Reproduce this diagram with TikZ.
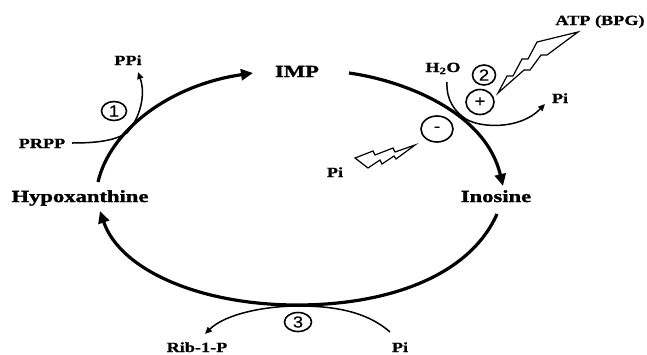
\documentclass[tikz,border=0pt]{standalone}
\usepackage{fontspec}
\newfontfamily\heavyfont{Liberation Serif Bold}[FakeStretch=1.33, FakeBold=1.6]
\newfontfamily\lblfont{Liberation Serif Bold}[FakeStretch=1.30, FakeBold=0.8]
\newfontfamily\numfont{Liberation Sans}[FakeStretch=1.15, FakeBold=0.6]
\usetikzlibrary{arrows.meta,shapes.geometric}
\begin{document}
\begin{tikzpicture}[x=1pt,y=-1pt,
  mainline/.style={line width=3.2pt},
  sideline/.style={line width=1.5pt},
  bigtip/.style={-{Triangle[length=12pt,width=11pt]}},
  smalltip/.style={-{Triangle[length=7pt,width=6pt]}},
  met/.style={font=\heavyfont\fontsize{17}{20}\selectfont, inner sep=0pt, anchor=base},
  lbl/.style={font=\lblfont\fontsize{14}{16}\selectfont, inner sep=0pt, anchor=base},
  enz/.style={ellipse, draw, line width=1.6pt, inner sep=0pt, font=\numfont\fontsize{16}{17}\selectfont},
  bolt/.style={draw, line width=1.2pt, line join=miter, fill=white}]
\useasboundingbox (0,0) rectangle (647,354);

% metabolites
\node[met] (hx)  at (80,202)  {Hypoxanthine};
\node[met] (imp) at (297,77)  {IMP};
\node[met] (ino) at (496,202) {Inosine};

% small labels
\node[lbl] (ppi)  at (128,65)  {PPi};
\node[lbl] (prpp) at (42,148)  {PRPP};
\node[lbl] (h2o)  at (443,72)  {H\textsubscript{2}O};
\node[lbl] (atp)  at (600,25)  {ATP (BPG)};
\node[lbl] (pir)  at (560,103) {Pi};
\node[lbl] (pil)  at (335,177) {Pi};
\node[lbl] (rib)  at (197,352) {Rib-1-P};
\node[lbl] (pib)  at (400,352) {Pi};

% enzyme / effector marks
\node[enz, minimum width=25pt, minimum height=19pt] (e1) at (114,111) {1};
\node[enz, minimum width=23pt, minimum height=20pt] (e2) at (484,75)  {2};
\node[enz, minimum width=28pt, minimum height=25pt] (ep) at (480,102) {+};
\node[enz, minimum width=32pt, minimum height=26pt] (em) at (437,129) {-};
\node[enz, minimum width=27pt, minimum height=19pt] (e3) at (298,322) {3};

% coordinates of the cycle
\coordinate (hxtop) at (98,182);
\coordinate (impin) at (253,73);
\coordinate (impout) at (349,73);
\coordinate (inoin) at (503,186);
\coordinate (inoout) at (497,214);
\coordinate (bot) at (297,305);
\coordinate (hxin) at (100,211);

\draw[mainline,bigtip] (hxtop) .. controls (110,130) and (170,85) .. (impin);
\draw[mainline,bigtip] (impout) .. controls (400,80) and (485,110) .. (inoin);
\draw[mainline,bigtip] (inoout) .. controls (470,275) and (390,305) .. (bot)
      .. controls (200,305) and (120,270) .. (hxin);

% side reactions
\coordinate (prppend) at (72,143);
\coordinate (j1) at (127,133);
\coordinate (ppiend) at (138,72);
\draw[sideline,smalltip] (prppend) .. controls (100,143) and (115,140) .. (j1)
      .. controls (140,118) and (146,95) .. (ppiend);

\coordinate (h2oend) at (447,82);
\coordinate (j2) at (466,119);
\coordinate (pirend) at (545,104);
\draw[sideline,smalltip] (h2oend) .. controls (446,100) and (455,112) .. (j2)
      .. controls (480,128) and (520,130) .. (pirend);

\coordinate (pibend) at (390,332);
\coordinate (j3) at (298,306);
\coordinate (ribend) at (205,334);
\draw[sideline,smalltip] (pibend) .. controls (365,310) and (330,306) .. (j3)
      .. controls (265,306) and (225,314) .. (ribend);

% lightning bolts
\draw[bolt] (498,93) -- (507,76) -- (513,76) -- (522,59) -- (528,59) -- (537,42)
  -- (578,32) -- (547,55) -- (541,55) -- (530,70) -- (524,70) -- cycle;
\draw[bolt] (415,145) -- (395,152) -- (393,148) -- (375,155) -- (373,151) -- (355,158)
  -- (368,168) -- (380,160) -- (382,164) -- (394,156) -- (396,159) -- cycle;
\end{tikzpicture}
\end{document}
